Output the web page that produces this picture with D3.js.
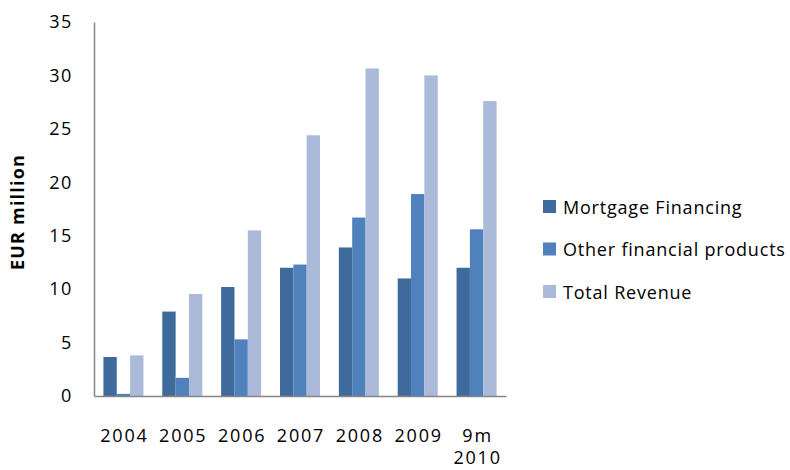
<!DOCTYPE html>
<html><head><meta charset="utf-8">
<script src="https://cdn.jsdelivr.net/npm/d3@7"></script>
<style>body{margin:0;background:#fff}svg{display:block}</style>
</head><body><svg id="c" width="790" height="470"></svg>
<script>
const categories = ["2004","2005","2006","2007","2008","2009","9m 2010"];
const seriesNames = ["Mortgage Financing","Other financial products","Total Revenue"];
const mortgage = [3.65, 7.9, 10.2, 12.0, 13.9, 11.0, 12.0];
const other = [0.2, 1.7, 5.3, 12.3, 16.7, 18.9, 15.6];
const total = [3.8, 9.55, 15.5, 24.4, 30.65, 30.0, 27.6];
const yTicks = [0,5,10,15,20,25,30,35];
const colors = ["#3F6A9C","#4F81BD","#AABAD8"];

const series = [mortgage, other, total];
const svg = d3.select("#c");
const font = "'Open Sans', sans-serif";
const m = {l:94, r:284, t:22, b:74};
const W = 790, H = 470;
const x = d3.scaleBand().domain(categories).range([m.l, W-m.r]).paddingInner(0.32).paddingOuter(0.16);
const x1 = d3.scaleBand().domain(d3.range(3)).range([0, x.bandwidth()]);
const y = d3.scaleLinear().domain([0,35]).range([H-m.b, m.t]);

const g = svg.append("g");
categories.forEach((c,i)=>{
  series.forEach((s,j)=>{
    g.append("rect").attr("x", x(c)+x1(j)).attr("width", x1.bandwidth())
      .attr("y", y(s[i])).attr("height", y(0)-y(s[i])).attr("fill", colors[j]);
  });
});

const ya = svg.append("g").attr("transform",`translate(${m.l},0)`)
  .call(d3.axisLeft(y).tickValues(yTicks).tickSize(0).tickPadding(21));
ya.select(".domain").attr("stroke","#868686").attr("stroke-width",1.5);
ya.selectAll("text").attr("font-family",font).attr("font-size",18).attr("letter-spacing","1.6px").attr("fill","#000");

const xa = svg.append("g").attr("transform",`translate(0,${y(0)})`)
  .call(d3.axisBottom(x).tickSize(0).tickFormat(""));
xa.select(".domain").attr("stroke","#868686").attr("stroke-width",1.5);
xa.selectAll(".tick").each(function(d){
  const parts = d.split(" ");
  const t = d3.select(this).append("text").attr("fill","#000").attr("font-family",font)
    .attr("font-size",18).attr("letter-spacing","1.8px").attr("text-anchor","middle");
  parts.forEach((p,k)=>t.append("tspan").attr("x",1).attr("y",46+k*22).text(p));
});

svg.append("text").attr("transform","translate(24,212) rotate(-90)").attr("text-anchor","middle")
  .attr("font-family",font).attr("font-weight","bold").attr("font-size",18).attr("letter-spacing","1.2px")
  .text("EUR  million");

const lg = svg.append("g");
seriesNames.forEach((n,j)=>{
  const cy = 207 + j*42.5;
  lg.append("rect").attr("x",543).attr("y",cy-7).attr("width",13).attr("height",13).attr("fill",colors[j]);
  lg.append("text").attr("x",563).attr("y",cy+6.5).attr("font-family",font).attr("font-size",18)
    .attr("letter-spacing","0.8px").text(n);
});
</script></body></html>
